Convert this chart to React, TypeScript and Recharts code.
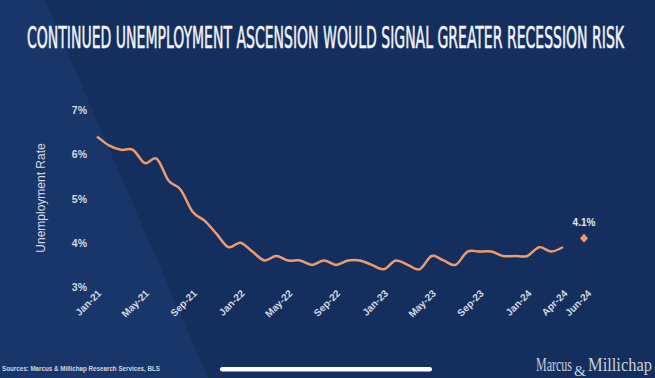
import React from "react";
import { LineChart, Line, XAxis, YAxis } from "recharts";

const months = [
  "Jan-21","Feb-21","Mar-21","Apr-21","May-21","Jun-21","Jul-21","Aug-21","Sep-21","Oct-21","Nov-21","Dec-21",
  "Jan-22","Feb-22","Mar-22","Apr-22","May-22","Jun-22","Jul-22","Aug-22","Sep-22","Oct-22","Nov-22","Dec-22",
  "Jan-23","Feb-23","Mar-23","Apr-23","May-23","Jun-23","Jul-23","Aug-23","Sep-23","Oct-23","Nov-23","Dec-23",
  "Jan-24","Feb-24","Mar-24","Apr-24","May-24","Jun-24",
];

const unemploymentRate = [
  6.4, 6.2, 6.1, 6.1, 5.8, 5.9, 5.4, 5.2, 4.7, 4.5, 4.2, 3.9,
  4.0, 3.8, 3.6, 3.7, 3.6, 3.6, 3.5, 3.6, 3.5, 3.6, 3.6, 3.5,
  3.4, 3.6, 3.5, 3.4, 3.7, 3.6, 3.5, 3.8, 3.8, 3.8, 3.7, 3.7,
  3.7, 3.9, 3.8, 3.9,
];

const forecastMonth = "Jun-24";
const forecastValue = 4.1;

const xTicks = ["Jan-21","May-21","Sep-21","Jan-22","May-22","Sep-22","Jan-23","May-23","Sep-23","Jan-24","Apr-24","Jun-24"];
const yTicks = [3, 4, 5, 6, 7];

const title = "CONTINUED UNEMPLOYMENT ASCENSION WOULD SIGNAL GREATER RECESSION RISK";
const yLabel = "Unemployment Rate";
const sourceText = "Sources: Marcus & Millichap Research Services, BLS";

const data = months.map((m, i) => ({
  month: m,
  rate: i < unemploymentRate.length ? unemploymentRate[i] : null,
  forecast: m === forecastMonth ? forecastValue : null,
}));

const TEXT = "#d3d8e2";
const ORANGE = "#ee9c6c";

// Smooth (Catmull-Rom style) curve drawn through the data points
const smoothCurve: any = (context: any) => {
  let pts: number[][] = [];
  return {
    areaStart() {},
    areaEnd() {},
    lineStart() {
      pts = [];
    },
    lineEnd() {
      if (!pts.length) return;
      context.moveTo(pts[0][0], pts[0][1]);
      const k = 1 / 6;
      for (let i = 0; i < pts.length - 1; i++) {
        const p0 = pts[i - 1] || pts[i];
        const p1 = pts[i];
        const p2 = pts[i + 1];
        const p3 = pts[i + 2] || p2;
        context.bezierCurveTo(
          p1[0] + (p2[0] - p0[0]) * k,
          p1[1] + (p2[1] - p0[1]) * k,
          p2[0] - (p3[0] - p1[0]) * k,
          p2[1] - (p3[1] - p1[1]) * k,
          p2[0],
          p2[1]
        );
      }
    },
    point(x: number, y: number) {
      pts.push([+x, +y]);
    },
  };
};

const XTick = (props: any) => {
  const { x, y, payload } = props;
  const ax = x + 5;
  const ay = y - 1;
  return (
    <text
      x={ax}
      y={ay}
      transform={`rotate(-45, ${ax}, ${ay})`}
      textAnchor="end"
      fill={TEXT}
      fontSize={10}
      fontWeight="bold"
      fontFamily="'Liberation Sans', Arial, sans-serif"
    >
      {payload.value}
    </text>
  );
};

const YTick = (props: any) => {
  const { x, y, payload } = props;
  return (
    <text
      x={x}
      y={y}
      dy={4}
      textAnchor="end"
      fill={TEXT}
      fontSize={10.5}
      fontWeight="bold"
      fontFamily="'Liberation Sans', Arial, sans-serif"
    >
      {payload.value}%
    </text>
  );
};

const Diamond = (props: any) => {
  const { cx, cy, value } = props;
  if (value == null || cx == null || cy == null) return <g key={props.index} />;
  const px = cx - 3;
  const s = 4.5;
  return (
    <g key={props.index}>
      <polygon
        points={`${px - 4},${cy} ${px},${cy - s} ${px + 4},${cy} ${px},${cy + s}`}
        fill={ORANGE}
      />
      <text
        x={px}
        y={cy - 12}
        textAnchor="middle"
        fill="#e6eaf0"
        fontSize={10}
        fontWeight="bold"
        fontFamily="'Liberation Sans', Arial, sans-serif"
      >
        {value}%
      </text>
    </g>
  );
};

export default function App() {
  return (
    <div
      style={{
        position: "absolute",
        left: 0,
        top: 0,
        width: 655,
        height: 378,
        overflow: "hidden",
      }}
    >
      <svg width={655} height={378} style={{ position: "absolute", left: 0, top: 0 }}>
        <rect x={0} y={0} width={655} height={378} fill="#142e5d" />
        <polygon points="0,0 45,0 208,378 0,378" fill="#19366a" />
      </svg>
      <div style={{ position: "absolute", left: 0, top: 0 }}>
        <LineChart
          width={655}
          height={378}
          data={data}
          margin={{ top: 110, right: 68, bottom: 0, left: 0 }}
        >
          <XAxis
            dataKey="month"
            ticks={xTicks}
            interval={0}
            tick={<XTick />}
            tickLine={false}
            axisLine={false}
            height={91}
          />
          <YAxis
            domain={[3, 7]}
            ticks={yTicks}
            width={97}
            tick={<YTick />}
            tickLine={false}
            axisLine={false}
            tickMargin={4}
          />
          <Line
            type={smoothCurve}
            dataKey="rate"
            stroke={ORANGE}
            strokeWidth={2.5}
            dot={false}
            isAnimationActive={false}
            connectNulls={false}
          />
          <Line
            type="monotone"
            dataKey="forecast"
            stroke="none"
            dot={<Diamond />}
            isAnimationActive={false}
          />
        </LineChart>
      </div>
      <svg
        width={655}
        height={378}
        style={{ position: "absolute", left: 0, top: 0, pointerEvents: "none" }}
      >
        <text
          x={27}
          y={48}
          textLength={597}
          lengthAdjust="spacingAndGlyphs"
          fill="#f1f3f7"
          stroke="#f1f3f7"
          strokeWidth={0.6}
          fontSize={31}
          fontWeight="normal"
          fontFamily="'Liberation Sans Narrow', 'DejaVu Sans Condensed', Roboto, sans-serif"
        >
          {title}
        </text>
        <text
          x={45}
          y={198}
          transform="rotate(-90, 45, 198)"
          textAnchor="middle"
          fill="#d6dbe4"
          fontSize={12}
          fontFamily="'Liberation Sans', Arial, sans-serif"
        >
          {yLabel}
        </text>
        <text
          x={2}
          y={371}
          textLength={158}
          lengthAdjust="spacingAndGlyphs"
          fill="#d0d6e0"
          fontSize={8}
          fontWeight="bold"
          fontFamily="'Liberation Sans Narrow', 'Liberation Sans', Arial, sans-serif"
        >
          {sourceText}
        </text>
        <rect x={220} y={367} width={212} height={4.5} rx={2.25} fill="#ffffff" />
        <text
          x={536}
          y={371}
          textLength={36}
          lengthAdjust="spacingAndGlyphs"
          fill="#c9d0dd"
          fontSize={18}
          fontFamily="'Liberation Serif', 'DejaVu Serif', serif"
        >
          Marcus
        </text>
        <text
          x={574}
          y={376}
          textLength={12}
          lengthAdjust="spacingAndGlyphs"
          fill="#c9d0dd"
          fontSize={14}
          fontFamily="'Liberation Serif', 'DejaVu Serif', serif"
        >
          &amp;
        </text>
        <text
          x={588}
          y={371}
          textLength={64}
          lengthAdjust="spacingAndGlyphs"
          fill="#c9d0dd"
          fontSize={18}
          fontFamily="'Liberation Serif', 'DejaVu Serif', serif"
        >
          Millichap
        </text>
      </svg>
    </div>
  );
}
